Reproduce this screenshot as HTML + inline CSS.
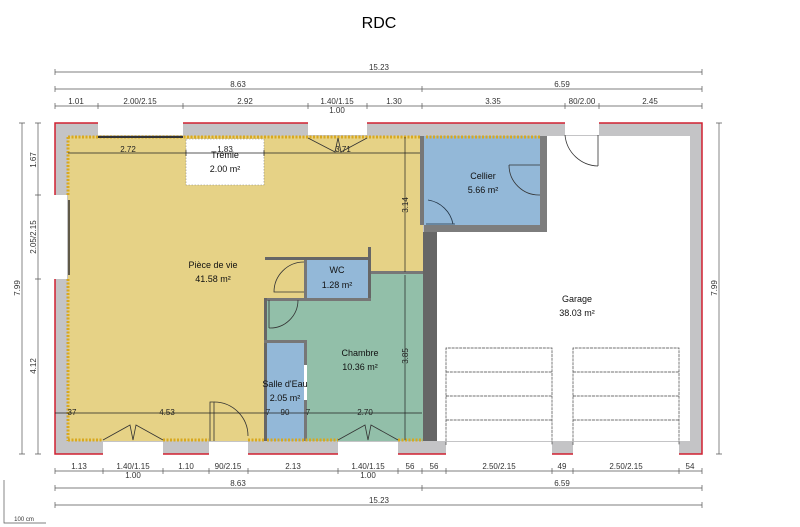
<!DOCTYPE html>
<html><head><meta charset="utf-8"><style>
body{margin:0;background:#fff;}
svg{display:block;font-family:"Liberation Sans",sans-serif;}
</style></head><body>
<svg width="800" height="527" viewBox="0 0 800 527" xmlns="http://www.w3.org/2000/svg">
<text x="379" y="28" font-size="16" text-anchor="middle" fill="#000">RDC</text>

<rect x="55" y="123" width="647" height="331" fill="#c4c4c6"/>
<rect x="55" y="123" width="647" height="331" fill="none" stroke="#d02030" stroke-width="1.5"/>
<g fill="#fff">
<rect x="98" y="121" width="85" height="14"/>
<rect x="308" y="121" width="59" height="14"/>
<rect x="565" y="121" width="34" height="14"/>
<rect x="53" y="195" width="14" height="84"/>
<rect x="103" y="442" width="60" height="14"/>
<rect x="209" y="442" width="39" height="14"/>
<rect x="338" y="442" width="60" height="14"/>
<rect x="446" y="442" width="106" height="14"/>
<rect x="573" y="442" width="106" height="14"/>
</g>
<rect x="68" y="136" width="355" height="305" fill="#e6d286"/>
<rect x="437" y="136" width="253" height="305" fill="#fff"/>
<rect x="424" y="136" width="116" height="89" fill="#93b8d8"/>
<rect x="540" y="136" width="7" height="96" fill="#7d7d7d"/>
<rect x="424" y="225" width="123" height="7" fill="#7d7d7d"/>
<rect x="423" y="232" width="14" height="209" fill="#666"/>
<rect x="420" y="136" width="4" height="89" fill="#777"/>
<rect x="370" y="273" width="53" height="168" fill="#92bfa9"/>
<rect x="265" y="299" width="158" height="142" fill="#92bfa9"/>
<rect x="370" y="271" width="53" height="3" fill="#777"/>
<rect x="265" y="257" width="106" height="3" fill="#666"/>
<rect x="368" y="247" width="3" height="53" fill="#666"/>
<rect x="306" y="260" width="62" height="39" fill="#93b8d8"/>
<rect x="304" y="260" width="3" height="40" fill="#777"/>
<rect x="265" y="298" width="106" height="3" fill="#777"/>
<rect x="264" y="298" width="3" height="143" fill="#666"/>
<rect x="267" y="343" width="37" height="98" fill="#93b8d8"/>
<rect x="264" y="340" width="43" height="3" fill="#777"/>
<rect x="304" y="340" width="3" height="101" fill="#777"/>
<rect x="304" y="365" width="3" height="35" fill="#fff"/>
<rect x="186" y="139" width="78" height="46" fill="#fff" stroke="#888" stroke-width="0.6" stroke-dasharray="1.5,1.5"/>
<g stroke="#d8a820" stroke-width="3" stroke-dasharray="2,1.5" fill="none">
<path d="M68 137 H420 M68 137 V195 M68 279 V441 M68 440 H103 M163 440 H209 M248 440 H264 M267 440 H338 M398 440 H423 M426 137 H540"/>
</g>
<g fill="none" stroke="#333" stroke-width="0.8">
<path d="M210 441 V402 H214 V441"/><path d="M214 402 A34 34 0 0 1 248 436"/>
<path d="M428 200 A30 30 0 0 1 453 224 M426 224 H455" stroke="#234"/>
<path d="M509 165 A30 30 0 0 0 540 195 M509 165 H540"/>
<path d="M565 135 A34 34 0 0 0 598 166 M598 135 V166"/>
<path d="M304 262 A30 30 0 0 0 274 292 H304"/>
<path d="M269 300 V328 M269 328 A28 28 0 0 0 298 300"/>
<path d="M308 138 L335 152 L338 138 L341 152 L367 138"/>
<path d="M103 440 L130 425 L133 440 L136 425 L163 440"/>
<path d="M338 440 L365 425 L368 440 L371 425 L398 440"/>
<path d="M98 137 H183" stroke-width="2"/>
<path d="M69 200 V275" stroke-width="1.5"/>
</g>
<g fill="none" stroke="#444" stroke-width="0.7" stroke-dasharray="3,0.8">
<path d="M446 445 V348 H552 V445 M446 372 H552 M446 396 H552 M446 420 H552"/>
<path d="M573 445 V348 H679 V445 M573 372 H679 M573 396 H679 M573 420 H679"/>
</g>
<g stroke="#222" stroke-width="0.7">
<path d="M68 153 H420 M186 150 V156 M264 150 V156"/>
<path d="M55 413 H422"/>
<path d="M405 137 V272 M405 275 V440"/>
</g>
<g font-size="8" fill="#222" text-anchor="middle">
<text x="128" y="152">2.72</text><text x="225" y="152">1.83</text><text x="343" y="152">3.71</text>
<text x="72" y="415">37</text><text x="167" y="415">4.53</text><text x="268" y="415">7</text><text x="285" y="415">90</text><text x="308" y="415">7</text><text x="365" y="415">2.70</text>
<text transform="translate(408,205) rotate(-90)">3.14</text>
<text transform="translate(408,356) rotate(-90)">3.85</text>
</g>
<g font-size="9" fill="#111" text-anchor="middle">
<text x="225" y="158">Trémie</text>
<text x="225" y="172">2.00 m²</text>
<text x="213" y="268">Pièce de vie</text><text x="213" y="282">41.58 m²</text>
<text x="337" y="273">WC</text><text x="337" y="288">1.28 m²</text>
<text x="483" y="179">Cellier</text><text x="483" y="193">5.66 m²</text>
<text x="577" y="302">Garage</text><text x="577" y="316">38.03 m²</text>
<text x="360" y="356">Chambre</text><text x="360" y="370">10.36 m²</text>
<text x="285" y="387">Salle d'Eau</text><text x="285" y="401">2.05 m²</text>
</g>

<g stroke="#555" stroke-width="0.7" fill="none">
<path d="M55 72 H702 M55 89 H702 M55 106 H702"/>
<path d="M55 471 H702 M55 488 H702 M55 505 H702"/>
<path d="M22 123 V454 M38 123 V454 M719 123 V454"/>
<path d="M55 69 V75 M702 69 V75 M55 86 V92 M422 86 V92 M702 86 V92"/>
<path d="M55 103 V109 M98 103 V109 M183 103 V109 M308 103 V109 M367 103 V109 M422 103 V109 M565 103 V109 M599 103 V109 M702 103 V109"/>
<path d="M55 468 V474 M103 468 V474 M163 468 V474 M209 468 V474 M248 468 V474 M338 468 V474 M398 468 V474 M422 468 V474 M446 468 V474 M552 468 V474 M573 468 V474 M679 468 V474 M702 468 V474"/>
<path d="M55 485 V491 M422 485 V491 M702 485 V491 M55 502 V508 M702 502 V508"/>
<path d="M19 123 H25 M19 454 H25 M35 123 H41 M35 195 H41 M35 279 H41 M35 454 H41 M716 123 H722 M716 454 H722"/>
<path d="M4 480 V523 H46"/>
</g>
<g font-size="8" fill="#333" text-anchor="middle">
<text x="379" y="70">15.23</text>
<text x="238" y="87">8.63</text><text x="562" y="87">6.59</text>
<text x="76" y="104">1.01</text><text x="140" y="104">2.00/2.15</text><text x="245" y="104">2.92</text><text x="337" y="104">1.40/1.15</text><text x="337" y="113">1.00</text><text x="394" y="104">1.30</text><text x="493" y="104">3.35</text><text x="582" y="104">80/2.00</text><text x="650" y="104">2.45</text>
<text x="79" y="469">1.13</text><text x="133" y="469">1.40/1.15</text><text x="133" y="478">1.00</text><text x="186" y="469">1.10</text><text x="228" y="469">90/2.15</text><text x="293" y="469">2.13</text><text x="368" y="469">1.40/1.15</text><text x="368" y="478">1.00</text><text x="410" y="469">56</text><text x="434" y="469">56</text><text x="499" y="469">2.50/2.15</text><text x="562" y="469">49</text><text x="626" y="469">2.50/2.15</text><text x="690" y="469">54</text>
<text x="238" y="486">8.63</text><text x="562" y="486">6.59</text>
<text x="379" y="503">15.23</text>
<text transform="translate(20,288) rotate(-90)">7.99</text>
<text transform="translate(36,160) rotate(-90)">1.67</text>
<text transform="translate(36,237) rotate(-90)">2.05/2.15</text>
<text transform="translate(36,366) rotate(-90)">4.12</text>
<text transform="translate(717,288) rotate(-90)">7.99</text>
<text x="24" y="521" font-size="6">100 cm</text>
</g>
</svg>
</body></html>
